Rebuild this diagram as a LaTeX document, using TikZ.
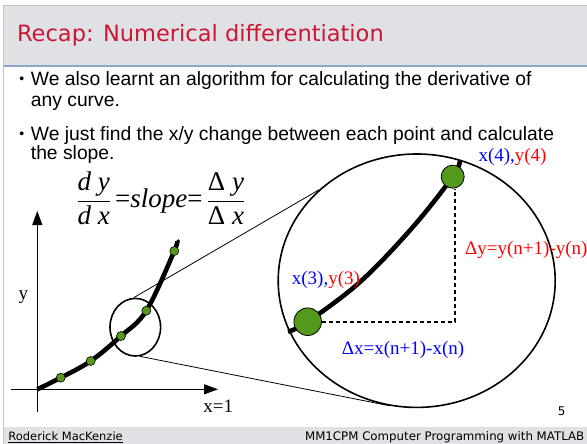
\documentclass[tikz,border=0pt]{standalone}
\usepackage{amsmath}
\usepackage{fontspec}
\setmainfont{Liberation Serif}
\setsansfont{Liberation Sans}
\newfontfamily\slidefont{DejaVu Sans}
\usetikzlibrary{shapes.geometric,arrows.meta}

\definecolor{dotgreen}{RGB}{84,152,28}
\definecolor{titlered}{RGB}{204,22,52}
\definecolor{bandgray}{RGB}{224,225,229}
\definecolor{framegray}{RGB}{196,196,200}
\definecolor{ruleblue}{RGB}{140,168,200}

\begin{document}
\begin{tikzpicture}[x=1pt, y=-1pt,
        ptdot/.style={circle, draw=black, line width=0.6pt, fill=dotgreen, inner sep=0pt, minimum size=9pt},
        bigdot/.style={circle, draw=black, line width=0.8pt, fill=dotgreen, inner sep=0pt},
        slopecurve/.style={line width=4.6pt, black},
        axisline/.style={line width=1pt, -{Triangle[length=14pt, width=10pt]}},
        lens/.style={ellipse, draw, line width=1.6pt, inner sep=0pt},
        zoomline/.style={line width=0.8pt},
        guide/.style={line width=1.8pt, dash pattern=on 4pt off 3pt},
        lbl/.style={font=\fontsize{19}{22}\selectfont, inner sep=0pt},
        body/.style={font=\sffamily\fontsize{19.3}{22}\selectfont, anchor=base west, inner sep=0pt},
        bullet/.style={font=\sffamily\fontsize{14}{16}\selectfont, anchor=base west, inner sep=0pt}
    ]
    \useasboundingbox (0,0) rectangle (587,444);

    % slide frame
    \fill[bandgray] (3,6) rectangle (587,65);
    \draw[ruleblue, line width=2pt] (3,66) -- (587,66);
    \fill[bandgray] (3,427) rectangle (587,444);
    \draw[framegray, line width=1pt] (3,444) -- (3,6) -- (587,6);

    \node[anchor=base west, inner sep=0pt, text=titlered, font=\slidefont\fontsize{22.5}{26}\selectfont] (title) at (16.9,41.7) {Recap: Numerical differentiation};

    % bullets
    \node[bullet] (bul1) at (19.3,84) {•};
    \node[body] (b1a) at (30.7,85) {We also learnt an algorithm for calculating the derivative of};
    \node[body] (b1b) at (30.7,106.5) {any curve.};
    \node[bullet] (bul2) at (19.3,139) {•};
    \node[body] (b2a) at (30.7,140) {We just find the x/y change between each point and calculate};
    \node[body] (b2b) at (30.7,159.5) {the slope.};

    \node[font=\fontsize{27}{30}\selectfont, inner sep=0pt] (formula) at (160.8,198.5) {$\dfrac{\mbox{\itshape d y}}{\mbox{\itshape d x}}\,\mbox{=\itshape slope\upshape =}\,\dfrac{\mbox{Δ \itshape y}}{\mbox{Δ \itshape x}}$};

    % axes
    \coordinate (o) at (37.3,389.3);
    \draw[axisline] (37.3,411.7) -- (37.3,211);
    \draw[axisline] (10.7,389.3) -- (218,389.3);
    \node[lbl] (ylab) at (23.3,296.7) {y};
    \node[lbl] (xlab) at (218.3,406.7) {x=1};

    % small curve
    \coordinate (p1) at (60.7,377.7);
    \coordinate (p2) at (90.7,361);
    \coordinate (p3) at (121,336);
    \coordinate (p4) at (146.3,310.7);
    \coordinate (p5) at (174.3,251);
    \coordinate (pend) at (176.7,240.7);
    \node[lens, minimum width=50.6pt, minimum height=57.6pt] (lens) at (135.3,327.2) {};
    \node[lens, minimum width=277pt, minimum height=253.4pt] (bigLens) at (416.7,280.7) {};
    \draw[zoomline] (lens.93.8) -- (bigLens.137.7);
    \draw[zoomline] (lens.279.6) -- (bigLens.258.8);
    \draw[slopecurve] plot[smooth, tension=0.6] coordinates {(o) (p1) (p2) (p3) (p4) (p5) (pend)};
    \foreach \p in {p1,p2,p3,p4,p5}
        \node[ptdot] (dot-\p) at (\p) {};

    % zoomed curve
    \coordinate (q0) at (288,331.7);
    \coordinate (q3) at (307.7,321.7);
    \coordinate (qa) at (360,282);
    \coordinate (qb) at (412,228);
    \coordinate (q4) at (452.7,176.7);
    \coordinate (qend) at (460,160);
    \coordinate (corner) at (455,321.7);
    \draw[slopecurve] plot[smooth, tension=0.6] coordinates {(q0) (q3) (qa) (qb) (q4) (qend)};
    \node[bigdot, minimum size=27.6pt] (x3) at (q3) {};
    \node[bigdot, minimum size=23pt] (x4) at (q4) {};
    \draw[guide] (x3) -- (corner) -- (corner |- x4.south);

    \node[lbl, anchor=west] (x4lab) at (478.3,156.7) {\textcolor{blue}{x(4),}\textcolor{red}{y(4)}};
    \node[lbl, anchor=west] (x3lab) at (291.7,280) {\textcolor{blue}{x(3),}\textcolor{red}{y(3)}};
    \node[lbl, anchor=west, text=red] (dylab) at (465,250) {Δy=y(n+1)-y(n)};
    \node[lbl, anchor=west, text=blue] (dxlab) at (341.7,350) {Δx=x(n+1)-x(n)};

    % footer
    \node[font=\slidefont\fontsize{12}{14}\selectfont, inner sep=0pt] (pagenum) at (561.7,411.7) {5};
    \node[anchor=base west, inner sep=0pt, font=\slidefont\fontsize{11.5}{14}\selectfont] (author) at (8.2,440) {\underline{Roderick MacKenzie}};
    \node[anchor=base east, inner sep=0pt, font=\slidefont\fontsize{11.8}{14}\selectfont] (course) at (584.5,440) {MM1CPM Computer Programming with MATLAB};
\end{tikzpicture}
\end{document}
